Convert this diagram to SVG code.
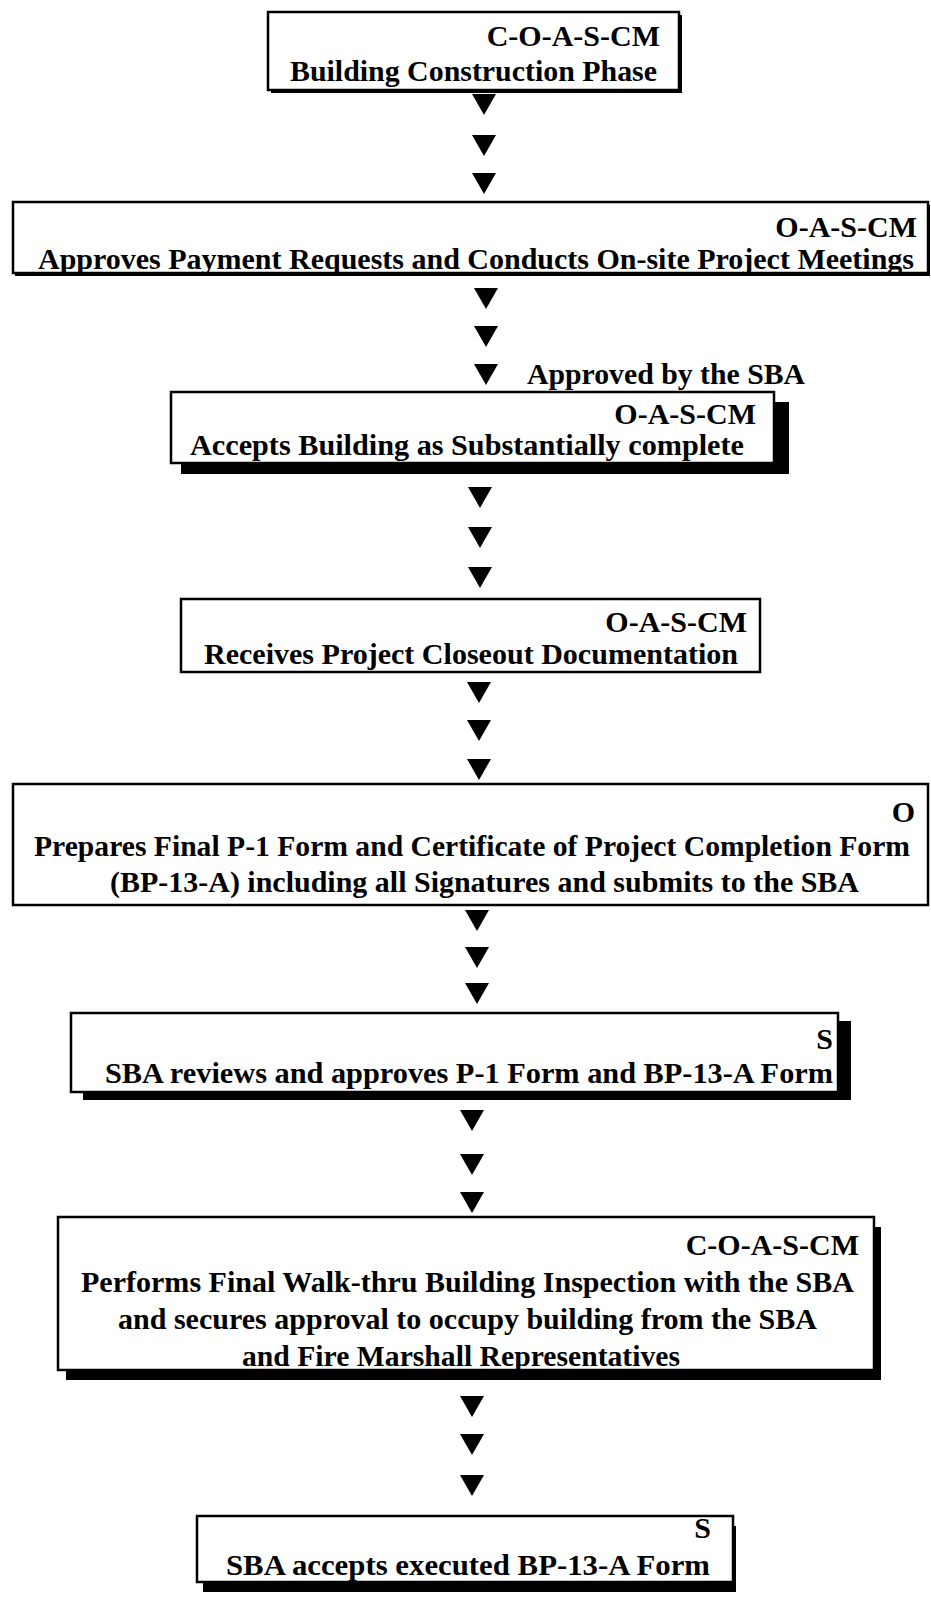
<svg xmlns="http://www.w3.org/2000/svg" xmlns:xlink="http://www.w3.org/1999/xlink" width="931" height="1597" viewBox="0 0 931 1597">
  <style>
    .box { fill: #ffffff; stroke: #000000; stroke-width: 2.5; }
    .shadow { fill: #000000; }
    .t { font-family: "Liberation Serif", "Times New Roman", serif; font-weight: bold; font-size: 30px; fill: #000000; }
    .r { text-anchor: end; }
    .arrow { fill: #000000; }
  </style>
  <defs>
    <!-- downward flow triangle, origin at top centre -->
    <path id="tri" d="M-12,0 L12,0 L0,21 Z"/>
  </defs>
  <rect width="931" height="1597" fill="#ffffff"/>

  <!-- process steps -->
  <g id="step-construction">
    <rect class="shadow" x="271" y="15" width="411" height="78"/>
    <rect class="box" x="268" y="12" width="411" height="78"/>
    <text class="t r" x="660" y="46">C-O-A-S-CM</text>
    <text class="t" x="290" y="81" textLength="367" lengthAdjust="spacingAndGlyphs">Building Construction Phase</text>
  </g>

  <g id="step-payment">
    <rect class="shadow" x="15" y="205" width="915" height="71"/>
    <rect class="box" x="13" y="202" width="915" height="71"/>
    <text class="t r" x="917" y="237">O-A-S-CM</text>
    <text class="t" x="38" y="269" textLength="876" lengthAdjust="spacingAndGlyphs">Approves Payment Requests and Conducts On-site Project Meetings</text>
  </g>

  <text id="label-approved" class="t" x="527" y="384" textLength="278" lengthAdjust="spacingAndGlyphs">Approved by the SBA</text>

  <g id="step-substantial">
    <rect class="shadow" x="181" y="402" width="608" height="72"/>
    <rect class="box" x="171" y="392" width="603" height="71"/>
    <text class="t r" x="756" y="424">O-A-S-CM</text>
    <text class="t" x="190" y="455" textLength="554" lengthAdjust="spacingAndGlyphs">Accepts Building as Substantially complete</text>
  </g>

  <g id="step-closeout">
    <rect class="box" x="181" y="599" width="579" height="73"/>
    <text class="t r" x="747" y="632">O-A-S-CM</text>
    <text class="t" x="204" y="664" textLength="534" lengthAdjust="spacingAndGlyphs">Receives Project Closeout Documentation</text>
  </g>

  <g id="step-final-forms">
    <rect class="box" x="13" y="784" width="915" height="121"/>
    <text class="t r" x="915" y="822">O</text>
    <text class="t" x="34" y="856" textLength="876" lengthAdjust="spacingAndGlyphs">Prepares Final P-1 Form and Certificate of Project Completion Form</text>
    <text class="t" x="110" y="892" textLength="749" lengthAdjust="spacingAndGlyphs">(BP-13-A) including all Signatures and submits to the SBA</text>
  </g>

  <g id="step-sba-review">
    <rect class="shadow" x="83" y="1021" width="768" height="79"/>
    <rect class="box" x="71" y="1013" width="767" height="79"/>
    <text class="t r" x="833" y="1049">S</text>
    <text class="t" x="105" y="1083" textLength="728" lengthAdjust="spacingAndGlyphs">SBA reviews and approves P-1 Form and BP-13-A Form</text>
  </g>

  <g id="step-walkthru">
    <rect class="shadow" x="66" y="1227" width="815" height="153"/>
    <rect class="box" x="58" y="1217" width="816" height="153"/>
    <text class="t r" x="859" y="1255">C-O-A-S-CM</text>
    <text class="t" x="81" y="1292" textLength="773" lengthAdjust="spacingAndGlyphs">Performs Final Walk-thru Building Inspection with the SBA</text>
    <text class="t" x="118" y="1329" textLength="699" lengthAdjust="spacingAndGlyphs">and secures approval to occupy building from the SBA</text>
    <text class="t" x="242" y="1366" textLength="438" lengthAdjust="spacingAndGlyphs">and Fire Marshall Representatives</text>
  </g>

  <g id="step-sba-accepts">
    <rect class="shadow" x="203" y="1526" width="533" height="66"/>
    <rect class="box" x="197" y="1516" width="536" height="66"/>
    <text class="t r" x="711" y="1538">S</text>
    <text class="t" x="226" y="1575" textLength="484" lengthAdjust="spacingAndGlyphs">SBA accepts executed BP-13-A Form</text>
  </g>

  <!-- flow markers between steps -->
  <g id="connectors" class="arrow">
    <use xlink:href="#tri" x="484" y="94"/>
    <use xlink:href="#tri" x="484" y="135"/>
    <use xlink:href="#tri" x="484" y="173"/>

    <use xlink:href="#tri" x="486" y="288"/>
    <use xlink:href="#tri" x="486" y="326"/>
    <use xlink:href="#tri" x="486" y="364"/>

    <use xlink:href="#tri" x="480" y="487"/>
    <use xlink:href="#tri" x="480" y="527"/>
    <use xlink:href="#tri" x="480" y="567"/>

    <use xlink:href="#tri" x="479" y="682"/>
    <use xlink:href="#tri" x="479" y="720"/>
    <use xlink:href="#tri" x="479" y="759"/>

    <use xlink:href="#tri" x="477" y="910"/>
    <use xlink:href="#tri" x="477" y="947"/>
    <use xlink:href="#tri" x="477" y="983"/>

    <use xlink:href="#tri" x="472" y="1110"/>
    <use xlink:href="#tri" x="472" y="1154"/>
    <use xlink:href="#tri" x="472" y="1192"/>

    <use xlink:href="#tri" x="472" y="1396"/>
    <use xlink:href="#tri" x="472" y="1434"/>
    <use xlink:href="#tri" x="472" y="1475"/>
  </g>
</svg>
